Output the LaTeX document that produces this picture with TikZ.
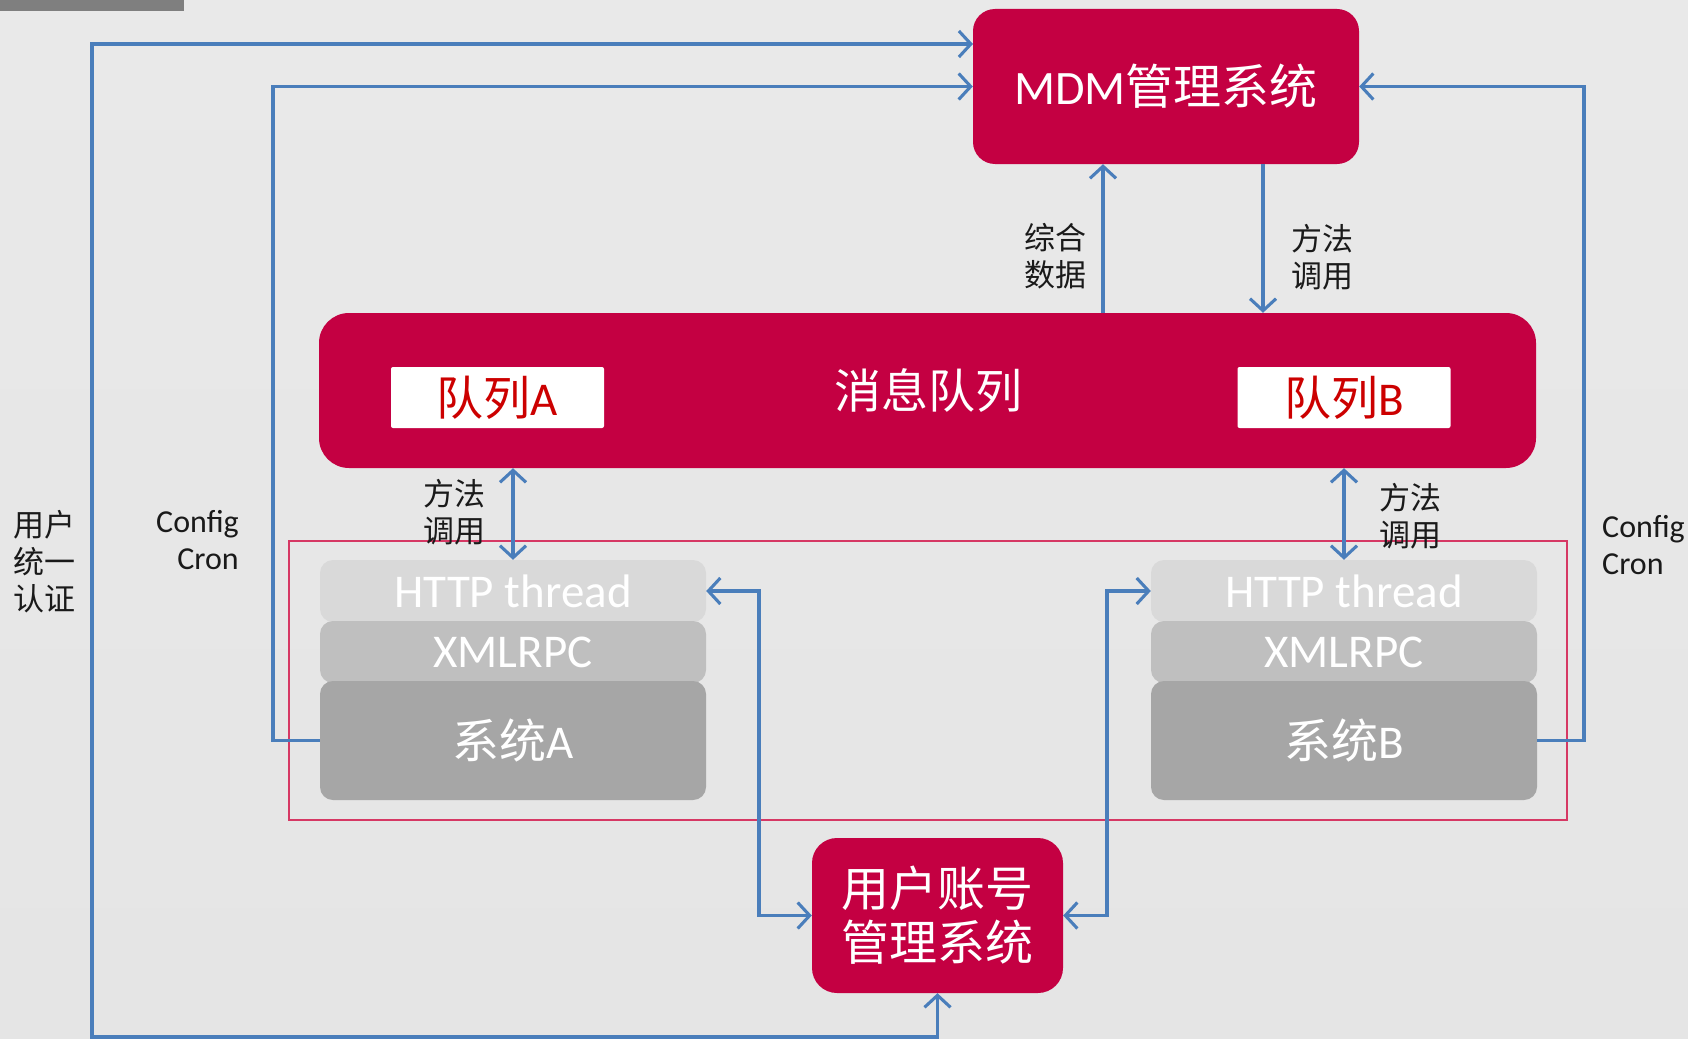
\documentclass[tikz,border=0pt]{standalone}
\usepackage{fontspec}
\setmainfont{Carlito}
\newfontfamily\cjk{Noto Sans CJK SC}
\usetikzlibrary{arrows.meta}
\definecolor{crim}{RGB}{196,0,66}
\definecolor{lnk}{RGB}{74,126,187}
\definecolor{qred}{RGB}{204,0,0}
\definecolor{pinkline}{RGB}{214,56,100}
\definecolor{gA}{RGB}{217,217,217}
\definecolor{gB}{RGB}{191,191,191}
\definecolor{gC}{RGB}{166,166,166}
\definecolor{txt}{RGB}{26,26,26}
\definecolor{bgtop}{RGB}{233,233,233}
\definecolor{bgmid}{RGB}{243,243,243}
\definecolor{bgbot}{RGB}{229,229,229}
\definecolor{bar}{RGB}{127,127,127}
\tikzset{
  bigbox/.style={fill=crim, draw=none, text=white, inner sep=0pt, align=center,
    font=\fontsize{48}{54}\selectfont},
  qbox/.style={fill=white, draw=none, text=qred, inner sep=0pt, rounded corners=2pt,
    minimum width=213pt, minimum height=61pt, font=\fontsize{47}{52}\selectfont},
  layer/.style={draw=none, text=white, inner sep=0pt, rounded corners=13pt,
    minimum width=386pt, font=\fontsize{47}{52}\selectfont},
  link/.style={draw=lnk, line width=3.1pt, >={Straight Barb[length=12pt,width=26pt]}},
  lab/.style={text=txt, align=center, inner sep=0pt, font=\fontsize{31}{37}\selectfont\cjk},
  conf/.style={text=txt, inner sep=0pt, font=\fontsize{32}{37}\selectfont},
}
\begin{document}
\begin{tikzpicture}[x=1pt,y=-1pt]
\useasboundingbox (0,0) rectangle (1688,1038);
\shade[top color=bgtop, middle color=bgmid, bottom color=bgbot] (0,0) rectangle (1688,1038);
\fill[bar] (0,0) rectangle (184,11);

% frame around systems
\draw[pinkline, line width=1.2pt] (289,541) rectangle (1567,820);

% main boxes
\node[bigbox, minimum width=386pt, minimum height=155pt, rounded corners=22pt] (mdm) at (1166,86.5) {MDM{\cjk 管理系统}};
\node[bigbox, minimum width=1217pt, minimum height=155pt, rounded corners=30pt] (mq) at (927.5,390.5) {};
\node[text=white, inner sep=0pt, font=\fontsize{47}{53}\selectfont\cjk] (mqt) at (928,391) {消息队列};
\node[qbox] (qa) at (497.5,397.5) {{\cjk 队列}A};
\node[qbox] (qb) at (1344,397.5) {{\cjk 队列}B};
\node[bigbox, minimum width=251pt, minimum height=155pt, rounded corners=25pt] (user) at (937.5,915.5) {\cjk 用户账号\\\cjk 管理系统};

% system A stack
\node[layer, fill=gA, minimum height=62pt] (httpA) at (513,591) {HTTP thread};
\node[layer, fill=gB, minimum height=62pt] (xmlA) at (513,652) {XMLRPC};
\node[layer, fill=gC, minimum height=119pt] (sysA) at (513,740.5) {{\cjk 系统}A};
% system B stack
\node[layer, fill=gA, minimum height=62pt] (httpB) at (1344,591) {HTTP thread};
\node[layer, fill=gB, minimum height=62pt] (xmlB) at (1344,652) {XMLRPC};
\node[layer, fill=gC, minimum height=119pt] (sysB) at (1344,740.5) {{\cjk 系统}B};

% helper coordinates
\coordinate (ob) at (92,1037);
\coordinate (ot) at (92,44);
\coordinate (mdmw1) at (973,44);
\coordinate (ca) at (273,86.5);
\coordinate (cb) at (1584,86.5);
\coordinate (xup) at (1103,0);
\coordinate (xdn) at (1263,0);
\coordinate (xl) at (759,915.5);
\coordinate (xr) at (1107,915.5);

% connectors
\draw[link,<->] (user.south) |- (ob) -- (ot) -- (mdmw1);
\draw[link,->] (sysA.west) -| (ca) -- (mdm.west);
\draw[link,->] (sysB.east) -| (cb) -- (mdm.east);
\draw[link,->] (mq.north -| xup) -- (mdm.south -| xup);
\draw[link,->] (mdm.south -| xdn) -- (mq.north -| xdn);
\draw[link,<->] (mq.south -| httpA.north) -- (httpA.north);
\draw[link,<->] (mq.south -| httpB.north) -- (httpB.north);
\draw[link,<->] (httpA.east) -| (xl) -- (user.west);
\draw[link,<->] (httpB.west) -| (xr) -- (user.east);

% labels
\node[lab] (l1) at (1055,256) {综合\\数据};
\node[lab] (l2) at (1322,257) {方法\\调用};
\node[lab] (l3) at (454,512) {方法\\调用};
\node[lab] (l4) at (1410,516) {方法\\调用};
\node[lab] (l5) at (44,562) {用户\\统一\\认证};
\node[conf, align=right, anchor=east] (c1) at (239,540) {Config\\Cron};
\node[conf, align=left, anchor=west] (c2) at (1602,545) {Config\\Cron};
\end{tikzpicture}
\end{document}
